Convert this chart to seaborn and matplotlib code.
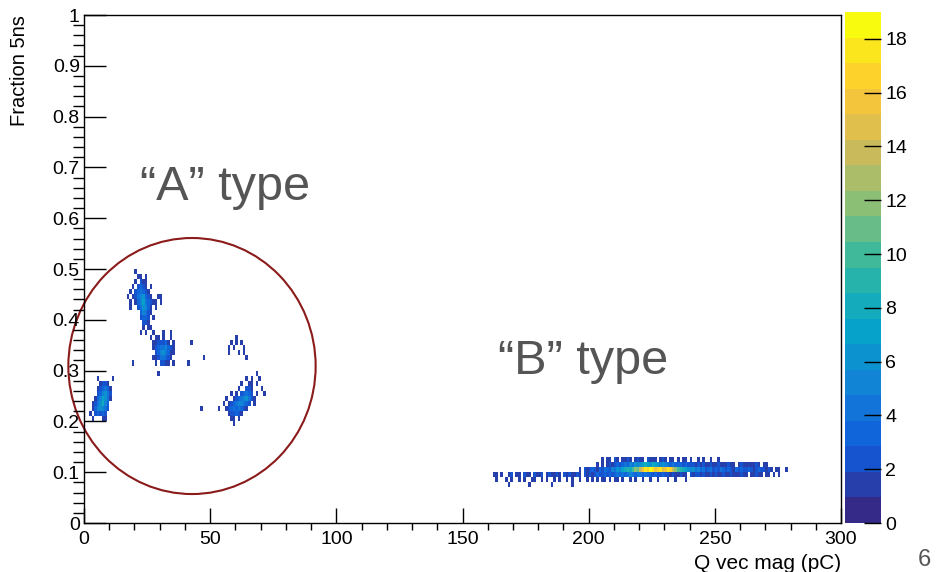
import numpy as np
import pandas as pd
import matplotlib
matplotlib.use("Agg")
import matplotlib.pyplot as plt
from matplotlib.colors import LinearSegmentedColormap, ListedColormap
from matplotlib.patches import Ellipse
from matplotlib.ticker import MultipleLocator, FuncFormatter
import seaborn as sns

# 2D histogram cells: (fraction bin low edge, first Q bin, counts per 1 pC bin)
# "A" type, upper blob
a_upper = [
    (0.49, 20, [1]),
    (0.48, 21, [1, 1, 0, 1]),
    (0.47, 20, [1, 0, 2, 1, 1]),
    (0.46, 19, [1, 0, 2, 3, 2, 1, 0, 1]),
    (0.45, 18, [1, 0, 2, 3, 4, 3, 2, 1]),
    (0.44, 17, [1, 0, 1, 2, 4, 5, 6, 3, 2, 1, 0, 0, 1, 1]),
    (0.43, 18, [1, 0, 1, 3, 5, 7, 4, 3, 2, 1, 1, 0, 1]),
    (0.42, 18, [1, 0, 0, 2, 4, 6, 5, 3, 1, 0, 1]),
    (0.41, 22, [3, 5, 4, 2, 1]),
    (0.40, 22, [2, 3, 3, 2, 0, 1]),
    (0.39, 23, [2, 2, 1]),
    (0.38, 23, [1, 0, 1, 1]),
    (0.37, 22, [1, 0, 1]),
]
# "A" type, middle blob
a_middle = [
    (0.37, 27, [1, 0, 0, 0, 1, 0, 0, 1]),
    (0.36, 26, [1, 0, 1, 1, 0, 1, 0, 0, 1]),
    (0.35, 27, [1, 1, 2, 2, 2, 3, 1, 0, 1]),
    (0.34, 27, [1, 2, 3, 4, 4, 5, 3, 2, 1]),
    (0.33, 28, [2, 3, 5, 6, 4, 3, 1, 1]),
    (0.32, 27, [1, 1, 2, 4, 4, 3, 2, 1]),
    (0.31, 19, [1, 0, 0, 0, 0, 0, 0, 0, 0, 1, 0, 2, 2, 1, 1, 0, 1]),
    (0.29, 29, [1]),
]
# "A" type, lower left blob
a_lower = [
    (0.28, 5, [1, 0, 0, 0, 0, 0, 1]),
    (0.27, 6, [1, 2, 2, 1]),
    (0.26, 5, [1, 2, 3, 4, 3, 1]),
    (0.25, 5, [2, 3, 5, 6, 4, 2]),
    (0.24, 4, [1, 3, 5, 7, 6, 4, 1]),
    (0.23, 3, [1, 2, 4, 6, 8, 5, 3]),
    (0.22, 3, [1, 3, 5, 6, 5, 4, 2]),
    (0.21, 2, [1, 0, 2, 3, 2, 3, 2]),
    (0.20, 3, [1, 0, 0, 0, 1, 1]),
]
# "A" type, right blob plus stray cells
a_right = [
    (0.36, 60, [1]),
    (0.35, 42, [1]),
    (0.35, 58, [1, 0, 1, 0, 1]),
    (0.34, 57, [1, 0, 1, 0, 0, 0, 1]),
    (0.33, 57, [1, 0, 0, 0, 1, 0, 1]),
    (0.32, 47, [1]),
    (0.32, 64, [1]),
    (0.31, 41, [1]),
    (0.29, 68, [1]),
    (0.28, 64, [1, 0, 1, 0, 0, 1]),
    (0.27, 62, [1, 0, 0, 1, 1, 0, 1]),
    (0.26, 61, [1, 0, 0, 2, 2, 1, 0, 0, 0, 1]),
    (0.25, 58, [1, 0, 1, 0, 2, 3, 4, 3, 2, 0, 1, 0, 0, 1]),
    (0.24, 56, [1, 0, 0, 1, 2, 3, 4, 5, 6, 4, 2, 1]),
    (0.23, 55, [1, 0, 1, 2, 3, 4, 5, 5, 4, 3, 2, 0, 1]),
    (0.22, 46, [1]),
    (0.22, 53, [1, 0, 0, 1, 2, 3, 4, 3, 4, 3, 2, 1]),
    (0.21, 57, [1, 2, 2, 3, 2, 1]),
    (0.20, 58, [1, 1, 0, 1]),
    (0.19, 59, [1]),
]
# "B" type band
b_band = [
    (0.12, 205, [1, 0, 1, 1, 0, 2, 1, 0, 1, 1, 2, 1, 0, 1, 2, 1, 1, 0, 2, 1,
                 1, 1, 0, 1, 2, 1, 0, 1, 1, 0, 1, 0, 1, 1, 0, 1, 0, 0, 1, 0,
                 1, 0, 0, 1, 0, 0, 1]),
    (0.11, 203, [1, 0, 1, 0, 1, 2, 1, 2, 3, 2, 3, 4, 3, 5, 4, 6, 5,
                 6, 7, 8, 7, 6, 8, 7, 6, 5, 6, 5, 4, 3, 4, 3,
                 3, 3, 2, 3, 2, 2, 2, 1, 2, 1, 2, 1, 1, 2, 1,
                 1, 2, 1, 1, 1, 2, 1, 1, 0, 1, 2, 1, 1, 1, 1, 1, 2, 1, 0, 1, 1]),
    (0.10, 196, [1, 0, 2, 1, 2, 3, 2, 1, 3, 2, 4, 3, 2, 5,
                 4, 6, 5, 7, 8, 9, 8, 10, 12, 11,
                 14, 16, 18, 17, 19, 18, 16, 17, 18, 15,
                 16, 18, 17, 14, 12, 10, 9, 8, 7, 6,
                 5, 6, 4, 5, 3, 4, 2, 3, 4, 2,
                 3, 2, 4, 3, 2, 3, 2, 1, 3, 2,
                 3, 2, 2, 3, 2, 1, 2, 3, 2, 2, 1, 2, 1, 0, 1, 1, 0, 0, 1]),
    (0.09, 162, [1, 1, 0, 1, 0, 0, 1, 2, 0, 1, 1, 0, 2, 1, 1, 0, 2, 1, 1, 2,
                 0, 1, 2, 1, 1, 2, 1, 0, 2, 1, 2, 1, 1, 2, 1, 0, 2, 1,
                 2, 1, 2, 3, 2, 2, 3, 2, 3, 2, 3, 4, 3, 4, 3, 4, 5, 4, 3, 4,
                 4, 3, 4, 3, 3, 2, 3, 2, 2, 3, 2, 2, 1, 2, 1, 1, 2, 1, 1, 0,
                 2, 1, 2, 2, 1, 2, 1, 1, 2, 1, 2, 1, 1, 2, 1, 1, 2, 1, 1, 1,
                 2, 1, 1, 0, 1, 1, 2, 1, 1, 0, 1, 1, 0, 1, 0, 1]),
    (0.08, 163, [1, 0, 0, 0, 1, 0, 1, 0, 0, 1, 0, 1, 0, 0, 1, 1, 0, 0, 1, 0,
                 1, 0, 0, 1, 0, 1, 0, 0, 1, 0, 1, 0, 0, 1, 0, 0, 1, 0, 1, 0,
                 1, 0, 1, 1, 0, 1, 0, 1, 1, 0, 1, 0, 0, 1, 0, 1, 0, 0, 1, 0,
                 0, 1, 0, 0, 1, 0, 0, 0, 1, 0, 0, 1, 0, 0, 0, 1]),
    (0.07, 168, [1, 0, 0, 0, 0, 0, 0, 0, 1, 0, 0, 0, 0, 0, 0, 0, 0, 1, 0, 0,
                 0, 0, 0, 0, 0, 1]),
]

x_ticks = [0, 50, 100, 150, 200, 250, 300]
y_ticks = [0, 0.1, 0.2, 0.3, 0.4, 0.5, 0.6, 0.7, 0.8, 0.9, 1]
z_ticks = [0, 2, 4, 6, 8, 10, 12, 14, 16, 18]

# flatten cell rows into a dataframe (bin centres + weights)
xs, ys, ws = [], [], []
for rows in [a_upper, a_middle, a_lower, a_right, b_band]:
    for y0, x0, counts in rows:
        for i, c in enumerate(counts):
            if c:
                xs.append(x0 + i + 0.5)
                ys.append(y0 + 0.005)
                ws.append(c)
df = pd.DataFrame({"q": xs, "frac": ys, "n": ws})

# ROOT kBird palette, 20 contour bands
stops = [0.0, 0.125, 0.25, 0.375, 0.5, 0.625, 0.75, 0.875, 1.0]
red = [0.2082, 0.0592, 0.0780, 0.0232, 0.1802, 0.5301, 0.8186, 0.9956, 0.9764]
green = [0.1664, 0.3599, 0.5041, 0.6419, 0.7178, 0.7492, 0.7328, 0.7862, 0.9832]
blue = [0.5293, 0.8684, 0.8385, 0.7914, 0.6425, 0.4662, 0.3499, 0.1968, 0.0539]
bird = LinearSegmentedColormap.from_list(
    "bird", list(zip(stops, zip(red, green, blue))))
cmap = ListedColormap(bird(np.linspace(0, 1, 20)))

plt.rcParams['font.family'] = ['Liberation Sans', 'DejaVu Sans']

fig = plt.figure(figsize=(9.36, 5.72), dpi=100)
ax = fig.add_axes([84 / 936, 1 - 523 / 572, 757 / 936, 508 / 572])
cax = fig.add_axes([845 / 936, 1 - 523 / 572, 36 / 936, 511 / 572])

sns.histplot(data=df, x="q", y="frac", weights="n",
             binwidth=(1, 0.01), binrange=((0, 300), (0, 1)),
             cmap=cmap, vmin=0, vmax=19, cbar=True, cbar_ax=cax, ax=ax)

ax.set_xlim(0, 300)
ax.set_ylim(0, 1)
ax.set_xticks(x_ticks)
ax.set_yticks(y_ticks)
ax.xaxis.set_minor_locator(MultipleLocator(10))
ax.yaxis.set_minor_locator(MultipleLocator(0.02))
ax.yaxis.set_major_formatter(FuncFormatter(lambda v, p: "%g" % v))
ax.tick_params(direction="in", labelsize=14, colors="black")
ax.tick_params(axis="x", which="major", length=11, width=1, pad=6)
ax.tick_params(axis="x", which="minor", length=5, width=1)
ax.tick_params(axis="y", which="major", length=16, width=1, pad=3)
ax.tick_params(axis="y", which="minor", length=8, width=1)
for s in ax.spines.values():
    s.set_linewidth(1)

ax.set_xlabel("Q vec mag (pC)", fontsize=15, loc="right")
ax.set_ylabel("Fraction 5ns", fontsize=14.5, loc="top")
ax.xaxis.set_label_coords(1.0, -0.062)
ax.yaxis.set_label_coords(-0.072, 1.0)

# colour scale
cax.set_yticks(z_ticks)
cax.yaxis.set_ticks_position("right")
cax.tick_params(direction="in", length=12, width=1, labelsize=14, pad=3)
cax.minorticks_off()
for s in cax.spines.values():
    s.set_visible(False)

# annotations
ax.text(22, 0.66, "\u201cA\u201d type", fontsize=35, color="#555555", va="center")
ax.text(164, 0.317, "\u201cB\u201d type", fontsize=35, color="#555555", va="center")
ax.add_patch(Ellipse((42.8, 0.309), 98, 0.504, fill=False,
                     edgecolor="#8b1a1a", linewidth=1.5, clip_on=False))
fig.text(918 / 936, 0.002, "6", fontsize=17, color="#555555", va="bottom")

fig.savefig("out.png", dpi=100)
